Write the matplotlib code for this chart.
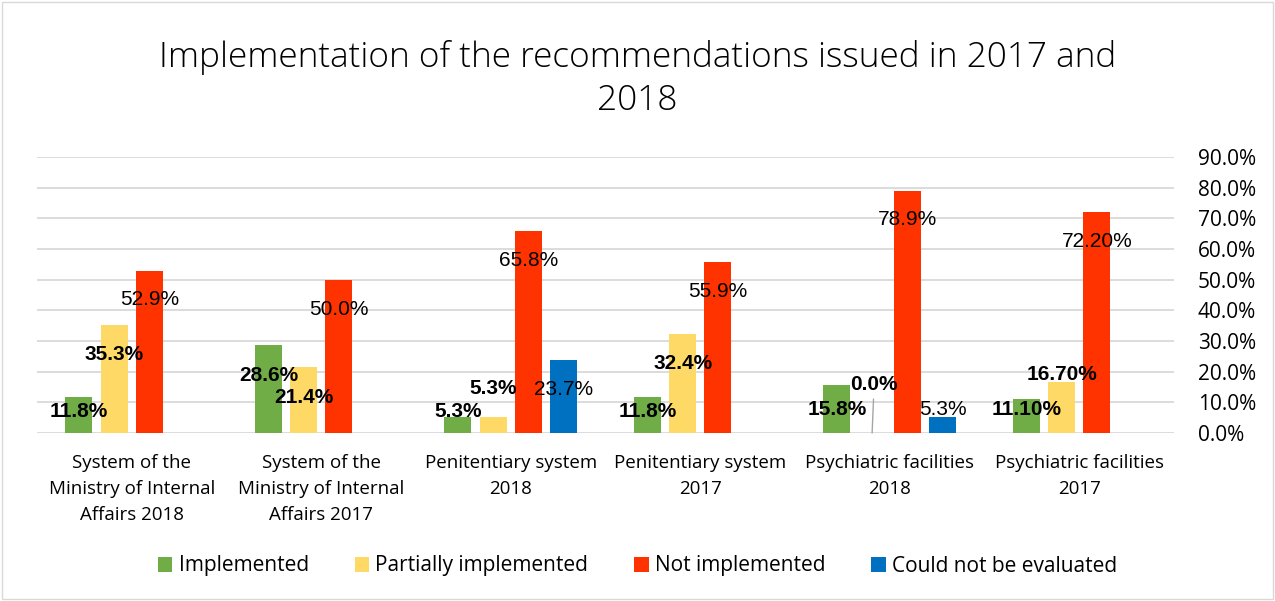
import matplotlib.pyplot as plt
import numpy as np
from matplotlib.patches import Rectangle
from matplotlib.ticker import FuncFormatter

categories = ["System of the\nMinistry of Internal\nAffairs 2018",
              "System of the\nMinistry of Internal\nAffairs 2017",
              "Penitentiary system\n2018",
              "Penitentiary system\n2017",
              "Psychiatric facilities\n2018",
              "Psychiatric facilities\n2017"]

series_names = ["Implemented", "Partially implemented", "Not implemented", "Could not be evaluated"]

implemented = [11.8, 28.6, 5.3, 11.8, 15.8, 11.1]
partially = [35.3, 21.4, 5.3, 32.4, 0.0, 16.7]
not_implemented = [52.9, 50.0, 65.8, 55.9, 78.9, 72.2]
not_evaluated = [np.nan, np.nan, 23.7, np.nan, 5.3, np.nan]

implemented_labels = ["11.8%", "28.6%", "5.3%", "11.8%", "15.8%", "11.10%"]
partially_labels = ["35.3%", "21.4%", "5.3%", "32.4%", "0.0%", "16.70%"]
not_implemented_labels = ["52.9%", "50.0%", "65.8%", "55.9%", "78.9%", "72.20%"]
not_evaluated_labels = [None, None, "23.7%", None, "5.3%", None]

colors = ["#70AD47", "#FFD966", "#FF3300", "#0070C0"]
bold = [True, True, False, False]

# vertical offset of each label centre from the bar top, in pixels (Excel moved them by hand)
label_dy = [[-15, -30, 5, -15, -25, -11],
            [-30, -30, 28, -30, 49, 7],
            [-29, -30, -29, -30, -28, -30],
            [0, 0, -29, 0, 7, 0]]

values = [implemented, partially, not_implemented, not_evaluated]
labels = [implemented_labels, partially_labels, not_implemented_labels, not_evaluated_labels]

W, H = 1275, 601
fig = plt.figure(figsize=(W / 100, H / 100), dpi=100)
ax = fig.add_axes([37 / W, 1 - 433 / H, (1174 - 37) / W, (433 - 157) / H])

x = np.arange(len(categories))
step = 0.186
width = 0.1425

for j in range(4):
    xs = x + (j - 1.5) * step
    ax.bar(xs, values[j], width=width, color=colors[j], label=series_names[j], zorder=3)
    for i in range(len(categories)):
        if labels[j][i] is None:
            continue
        v = values[j][i]
        kw = {}
        if j == 1 and v == 0:
            kw = dict(arrowprops=dict(arrowstyle="-", color="#a6a6a6", lw=1,
                                      shrinkA=2, shrinkB=0))
        ax.annotate(labels[j][i], xy=(xs[i], v), xytext=(2 if kw else 0, label_dy[j][i]),
                    textcoords="offset pixels", ha="center", va="center",
                    fontsize=15, family="Liberation Sans",
                    fontweight="bold" if bold[j] else "normal", color="black",
                    zorder=5, **kw)

ax.set_xlim(-0.5, len(categories) - 0.5)
ax.set_ylim(0, 90)
ax.set_yticks(np.arange(0, 91, 10))
ax.yaxis.set_major_formatter(FuncFormatter(lambda v, p: f"{v:.1f}%"))
ax.yaxis.tick_right()
ax.tick_params(axis="y", length=0, pad=17, labelsize=15)
for t in ax.get_yticklabels():
    t.set_family("Open Sans")
ax.set_xticks(x)
ax.set_xticklabels(categories, fontsize=13.5, family="Open Sans", linespacing=1.56)
ax.tick_params(axis="x", length=0, pad=15)
ax.grid(axis="y", color="#d9d9d9", lw=1.3, zorder=0)
for s in ax.spines.values():
    s.set_visible(False)

fig.text(0.5, 1 - 79 / H, "Implementation of the recommendations issued in 2017 and\n2018",
         ha="center", va="center", fontsize=25.4, family="Open Sans", fontweight="light",
         linespacing=1.3)

fig.legend(loc="center", bbox_to_anchor=(0.5, 1 - 566 / H), ncol=4, frameon=False,
           prop={"family": "Open Sans", "size": 15}, handlelength=0.7, handleheight=0.7,
           handletextpad=0.3, columnspacing=2.2)

fig.patches.append(Rectangle((2 / W, 2 / H), 1 - 4 / W, 1 - 4 / H, transform=fig.transFigure,
                             fill=False, edgecolor="#d9d9d9", lw=1))

fig.savefig("out.png", dpi=100)
